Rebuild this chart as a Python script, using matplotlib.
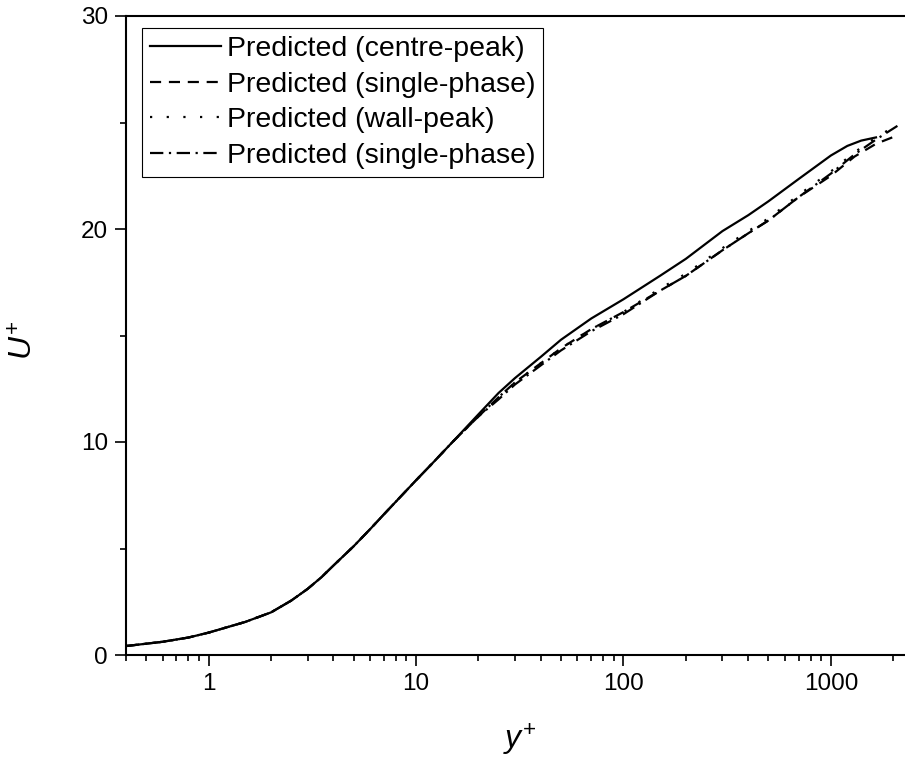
import matplotlib
matplotlib.use("Agg")
import matplotlib.pyplot as plt
from matplotlib.ticker import LogLocator, FixedLocator, NullFormatter, FixedFormatter

plt.rcParams['font.family'] = ['Liberation Sans', 'DejaVu Sans']
plt.rcParams['mathtext.fontset'] = 'custom'
plt.rcParams['mathtext.it'] = 'Liberation Sans:italic'
plt.rcParams['mathtext.rm'] = 'Liberation Sans'

# ---- data ----
yp_centre = [0.4, 0.6, 0.8, 1, 1.5, 2, 2.5, 3, 3.5, 4, 5, 6, 7, 8, 10, 12, 15, 20, 25, 30, 40, 50, 70, 100,
             150, 200, 300, 400, 500, 700, 1000, 1200, 1400, 1650]
u_centre = [0.42, 0.62, 0.82, 1.05, 1.55, 2.0, 2.55, 3.1, 3.65, 4.2, 5.1, 5.9, 6.6, 7.2, 8.2, 9.0, 10.0, 11.3, 12.3,
            13.0, 14.0, 14.8, 15.8, 16.7, 17.8, 18.6, 19.9, 20.65, 21.3, 22.35, 23.45, 23.9, 24.15, 24.3]

yp_other = [0.4, 0.6, 0.8, 1, 1.5, 2, 2.5, 3, 3.5, 4, 5, 6, 7, 8, 10, 12, 15, 20, 25, 30, 40, 50, 70, 100,
            150, 200, 300, 400, 500, 700, 1000, 1300, 1650, 2100]
u_single1 = [0.42, 0.62, 0.82, 1.05, 1.55, 2.0, 2.55, 3.1, 3.65, 4.2, 5.1, 5.9, 6.6, 7.2, 8.2, 9.0, 10.0, 11.2,
             12.1, 12.8, 13.7, 14.4, 15.3, 16.1, 17.1, 17.8, 19.0, 19.8, 20.4, 21.5, 22.5, 23.4, 24.0, 24.4]
u_wall = [0.42, 0.62, 0.82, 1.05, 1.55, 2.0, 2.55, 3.1, 3.65, 4.2, 5.1, 5.9, 6.6, 7.2, 8.2, 9.0, 10.0, 11.2,
          12.1, 12.8, 13.7, 14.4, 15.3, 16.1, 17.2, 17.9, 19.1, 19.9, 20.5, 21.6, 22.7, 23.6, 24.3, 24.9]
u_single2 = [0.42, 0.62, 0.82, 1.05, 1.55, 2.0, 2.55, 3.1, 3.65, 4.2, 5.1, 5.9, 6.6, 7.2, 8.2, 9.0, 10.0, 11.2,
             12.0, 12.7, 13.6, 14.3, 15.2, 16.0, 17.1, 17.8, 19.0, 19.8, 20.4, 21.5, 22.6, 23.5, 24.2, 24.85]

labels = ["Predicted (centre-peak)", "Predicted (single-phase)",
          "Predicted (wall-peak)", "Predicted (single-phase)"]

x_major = [1, 10, 100, 1000]
x_major_labels = ["1", "10", "100", "1000"]
y_major = [0, 10, 20, 30]
y_minor = [5, 15, 25]

# ---- figure ----
W, H = 905, 771
fig = plt.figure(figsize=(W / 100, H / 100), dpi=100)
left, right, top, bottom = 126, 905, 16, 655
ax = fig.add_axes([left / W, 1 - bottom / H, (right - left) / W, (bottom - top) / H])

lw = 1.6
ax.plot(yp_centre, u_centre, color='black', lw=lw, linestyle='-', label=labels[0])
ax.plot(yp_other, u_single1, color='black', lw=lw, linestyle=(0, (5, 3.5)), label=labels[1])
ax.plot(yp_other, u_wall, color='black', lw=lw, linestyle=(0, (1, 6.5)), label=labels[2])
ax.plot(yp_other, u_single2, color='black', lw=lw, linestyle=(0, (6, 2.5, 1, 2.5)), label=labels[3])

ax.set_xscale('log')
ax.set_xlim(0.4, 2277)
ax.set_ylim(0, 30)

ax.xaxis.set_major_locator(FixedLocator(x_major))
ax.xaxis.set_major_formatter(FixedFormatter(x_major_labels))
ax.xaxis.set_minor_locator(LogLocator(base=10, subs=range(2, 10), numticks=20))
ax.xaxis.set_minor_formatter(NullFormatter())
ax.yaxis.set_major_locator(FixedLocator(y_major))
ax.yaxis.set_minor_locator(FixedLocator(y_minor))

ax.tick_params(axis='both', which='major', direction='out', length=8, width=1.2,
               labelsize=17.5, pad=5, top=False, right=False)
ax.tick_params(axis='both', which='minor', direction='out', length=4.5, width=1.2,
               top=False, right=False)

for s in ['left', 'bottom', 'top']:
    ax.spines[s].set_linewidth(1.5)
ax.spines['right'].set_visible(False)

ax.set_xlabel(r"$y^{+}$", fontsize=23)
ax.set_ylabel(r"$U^{+}$", fontsize=23)
ax.xaxis.set_label_coords((520 - left) / (right - left), (bottom - 722) / (bottom - top))
ax.yaxis.set_label_coords((40 - left) / (right - left), (bottom - 340) / (bottom - top))

leg = ax.legend(loc='upper left', bbox_to_anchor=(16 / 779, 1 - 12 / 639),
                borderaxespad=0, fontsize=20.5, frameon=True, fancybox=False,
                edgecolor='black', framealpha=1, handlelength=2.5,
                handletextpad=0.2, labelspacing=0.34, borderpad=0.28)
leg.get_frame().set_linewidth(0.8)

fig.savefig("out.png", dpi=100)
